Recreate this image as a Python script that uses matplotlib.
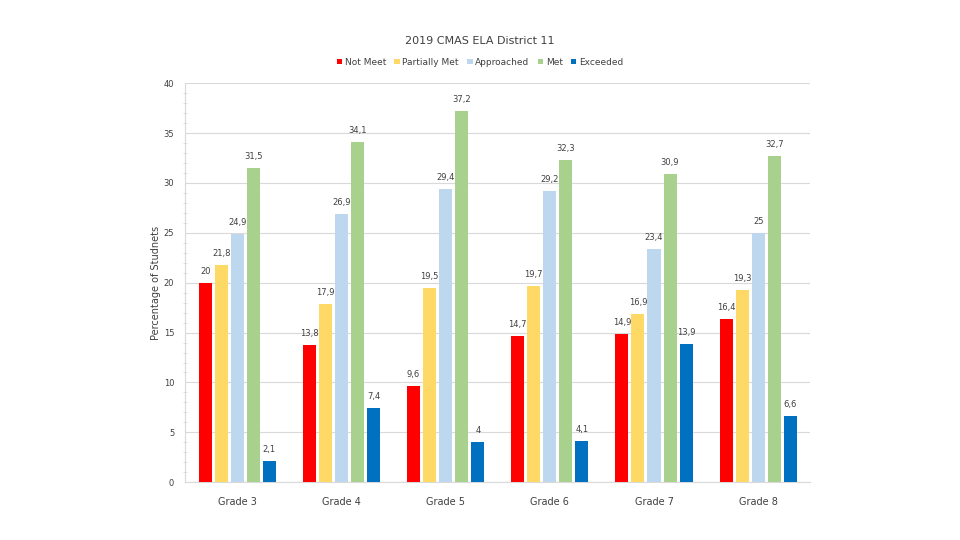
import matplotlib.pyplot as plt
import numpy as np

# data
grades = ["Grade 3", "Grade 4", "Grade 5", "Grade 6", "Grade 7", "Grade 8"]
series = ["Not Meet", "Partially Met", "Approached", "Met", "Exceeded"]
not_meet = [20, 13.8, 9.6, 14.7, 14.9, 16.4]
partially_met = [21.8, 17.9, 19.5, 19.7, 16.9, 19.3]
approached = [24.9, 26.9, 29.4, 29.2, 23.4, 25]
met = [31.5, 34.1, 37.2, 32.3, 30.9, 32.7]
exceeded = [2.1, 7.4, 4, 4.1, 13.9, 6.6]
colors = ["#FF0000", "#FFD966", "#BDD7EE", "#A9D18E", "#0070C0"]

values = [not_meet, partially_met, approached, met, exceeded]
text_color = "#404040"

fig = plt.figure(figsize=(9.6, 5.4), dpi=100)
ax = fig.add_axes([0.193, 0.107, 0.651, 0.739])

x = np.arange(len(grades))
width = 0.125
step = 0.154

for i, (name, vals, col) in enumerate(zip(series, values, colors)):
    pos = x + (i - 2) * step
    bars = ax.bar(pos, vals, width, color=col, label=name, zorder=3)
    for b, v in zip(bars, vals):
        label = ("%g" % v).replace(".", ",")
        ax.text(b.get_x() + b.get_width() / 2, v + 0.7, label,
                ha="center", va="bottom", fontsize=6, color=text_color)

ax.set_xlim(-0.5, 5.5)
ax.set_ylim(0, 40)
ax.set_yticks(range(0, 41, 5))
ax.set_yticks(range(0, 41, 1), minor=True)
ax.set_xticks(x)
ax.set_xticklabels(grades, fontsize=7, color=text_color)
ax.tick_params(axis="x", length=0, pad=11)
ax.tick_params(axis="y", which="major", labelsize=6, labelcolor=text_color,
               length=0, pad=8)
ax.tick_params(axis="y", which="minor", length=3, color="#D9D9D9", direction="inout")
ax.grid(axis="y", color="#D9D9D9", linewidth=0.8, zorder=0)

for s in ["top", "right"]:
    ax.spines[s].set_visible(False)
ax.spines["left"].set_color("#D9D9D9")
ax.spines["bottom"].set_color("#D9D9D9")

ax.set_ylabel("Percentage of Studnets", fontsize=7, color=text_color, labelpad=2)

fig.text(0.5, 0.925, "2019 CMAS ELA District 11", ha="center", va="center",
         fontsize=8, color=text_color)
fig.legend(loc="center", bbox_to_anchor=(0.5, 0.885), ncol=5, frameon=False,
           fontsize=6.5, handlelength=0.6, handleheight=0.6, handletextpad=0.3,
           columnspacing=0.9, labelcolor=text_color)

fig.savefig("out.png", dpi=100)
